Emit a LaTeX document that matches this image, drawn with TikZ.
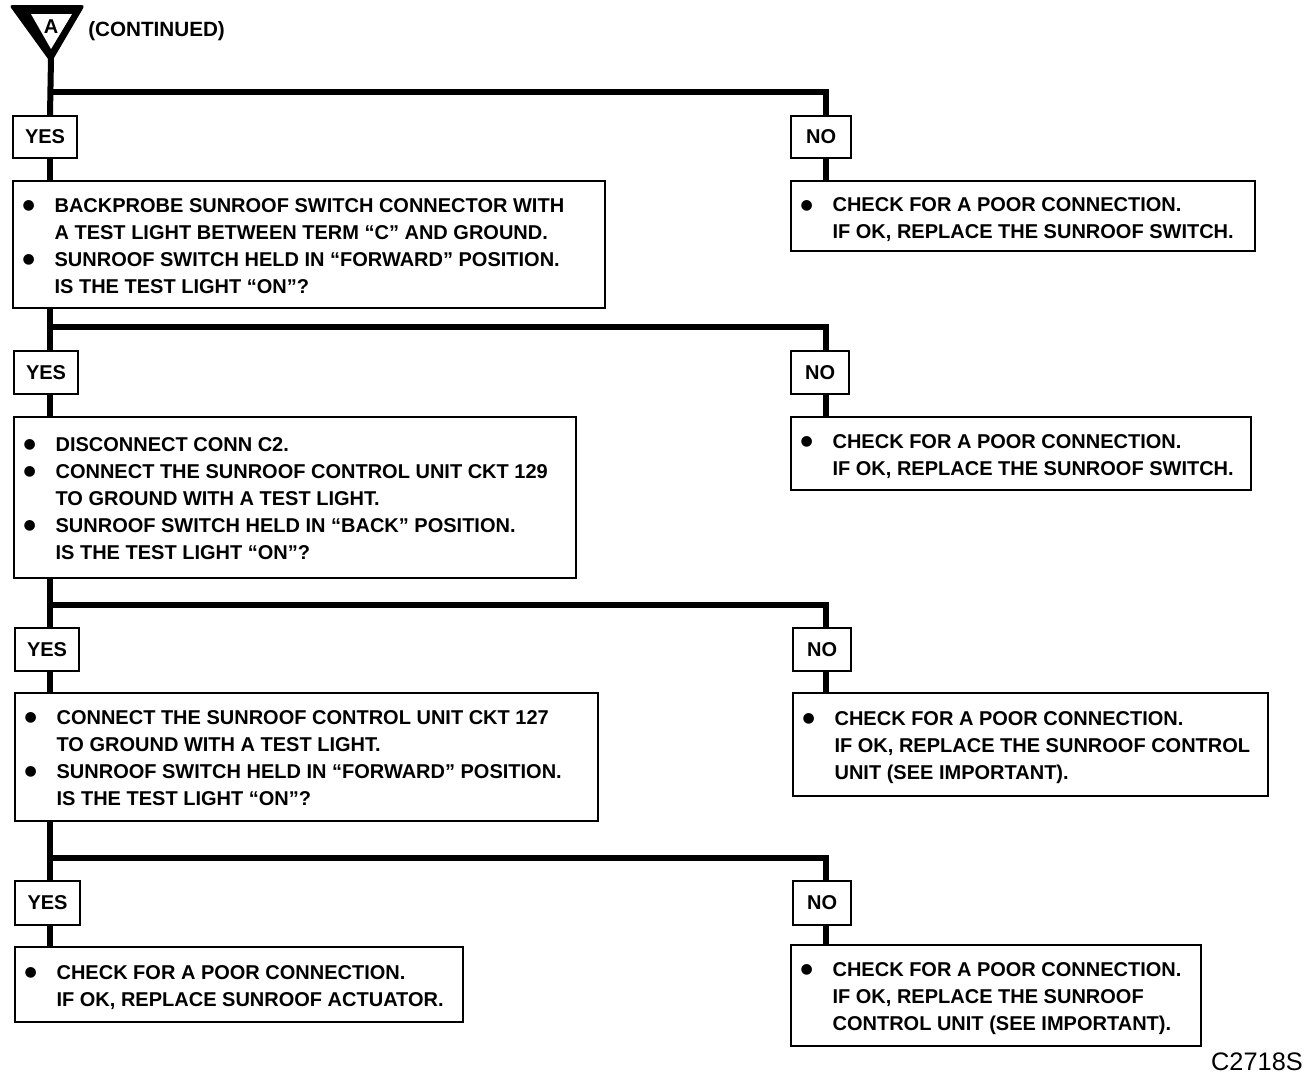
\documentclass[tikz,border=0pt]{standalone}
\usepackage{fontspec}
\setmainfont{Liberation Sans}
\newfontfamily\dvsym{DejaVu Sans}
\newcommand\bul{\makebox[24.25pt][l]{\hspace{0.3pt}\raisebox{2pt}{\dvsym\fontsize{10.5}{12}\selectfont ●}}}
\begin{document}
\begin{tikzpicture}[x=0.75pt,y=-0.75pt,
  wire/.style={line width=4.5pt},
  frame/.style={draw, line width=1.6pt, anchor=north west, inner sep=0pt},
  sz/.style 2 args={minimum width=#1*0.75pt, minimum height=#2*0.75pt},
  tag/.style={frame, font=\bfseries\fontsize{15}{18}\selectfont},
  txt/.style={anchor=west, inner sep=0pt, xshift=7.5pt, yshift=-2pt, font=\bfseries\fontsize{15}{20.25}\selectfont}]
\useasboundingbox[fill=white] (0,0) rectangle (1312,1082);

% header symbol
\fill[rounded corners=2.5pt] (9,5) -- (85,5) -- (51,63) -- cycle;
\fill[white] (31,14) -- (72,14) -- (51,49) -- cycle;
\node[inner sep=0pt, font=\bfseries\fontsize{15}{17}\selectfont] (symA) at (51,27) {A};
\coordinate (tri) at (51,58);
\node[anchor=west, inner sep=0pt, font=\bfseries\fontsize{15.5}{18}\selectfont] (cont) at (88,31) {(CONTINUED)};

\coordinate (sp) at (50,0);
\coordinate (rs) at (826,0);

% level 1
\node[tag, sz={64}{42}] (yes1) at (12,115) {YES};
\node[tag, sz={60}{42}] (no1) at (790,115) {NO};
\node[frame, sz={592}{127}] (b1) at (12,180) {};
\node[txt] (t1) at (b1.west) {\begin{tabular}{@{}l@{}l@{}}
\bul & BACKPROBE SUNROOF SWITCH CONNECTOR WITH\\
 & A TEST LIGHT BETWEEN TERM “C” AND GROUND.\\
\bul & SUNROOF SWITCH HELD IN “FORWARD” POSITION.\\
 & IS THE TEST LIGHT “ON”?\end{tabular}};
\node[frame, sz={464}{70}] (n1) at (790,180) {};
\node[txt, yshift=-1pt] (u1) at (n1.west) {\begin{tabular}{@{}l@{}l@{}}
\bul & CHECK FOR A POOR CONNECTION.\\
 & IF OK, REPLACE THE SUNROOF SWITCH.\end{tabular}};

% level 2
\node[tag, sz={64}{43}] (yes2) at (13,350) {YES};
\node[tag, sz={58}{43}] (no2) at (790,350) {NO};
\node[frame, sz={562}{161}] (b2) at (13,416) {};
\node[txt] (t2) at (b2.west) {\begin{tabular}{@{}l@{}l@{}}
\bul & DISCONNECT CONN C2.\\
\bul & CONNECT THE SUNROOF CONTROL UNIT CKT 129\\
 & TO GROUND WITH A TEST LIGHT.\\
\bul & SUNROOF SWITCH HELD IN “BACK” POSITION.\\
 & IS THE TEST LIGHT “ON”?\end{tabular}};
\node[frame, sz={460}{73}] (n2) at (790,416) {};
\node[txt] (u2) at (n2.west) {\begin{tabular}{@{}l@{}l@{}}
\bul & CHECK FOR A POOR CONNECTION.\\
 & IF OK, REPLACE THE SUNROOF SWITCH.\end{tabular}};

% level 3
\node[tag, sz={64}{43}] (yes3) at (14,627) {YES};
\node[tag, sz={58}{43}] (no3) at (792,627) {NO};
\node[frame, sz={583}{128}] (b3) at (14,692) {};
\node[txt] (t3) at (b3.west) {\begin{tabular}{@{}l@{}l@{}}
\bul & CONNECT THE SUNROOF CONTROL UNIT CKT 127\\
 & TO GROUND WITH A TEST LIGHT.\\
\bul & SUNROOF SWITCH HELD IN “FORWARD” POSITION.\\
 & IS THE TEST LIGHT “ON”?\end{tabular}};
\node[frame, sz={475}{103}] (n3) at (792,692) {};
\node[txt] (u3) at (n3.west) {\begin{tabular}{@{}l@{}l@{}}
\bul & CHECK FOR A POOR CONNECTION.\\
 & IF OK, REPLACE THE SUNROOF CONTROL\\
 & UNIT (SEE IMPORTANT).\end{tabular}};

% level 4
\node[tag, sz={65}{44}] (yes4) at (14,880) {YES};
\node[tag, sz={58}{44}] (no4) at (792,880) {NO};
\node[frame, sz={448}{75}] (b4) at (14,946) {};
\node[txt] (t4) at (b4.west) {\begin{tabular}{@{}l@{}l@{}}
\bul & CHECK FOR A POOR CONNECTION.\\
 & IF OK, REPLACE SUNROOF ACTUATOR.\end{tabular}};
\node[frame, sz={410}{101}] (n4) at (790,944) {};
\node[txt] (u4) at (n4.west) {\begin{tabular}{@{}l@{}l@{}}
\bul & CHECK FOR A POOR CONNECTION.\\
 & IF OK, REPLACE THE SUNROOF\\
 & CONTROL UNIT (SEE IMPORTANT).\end{tabular}};

\node[anchor=east, inner sep=0pt, font=\fontsize{19}{22}\selectfont] (code) at (1303,1062) {C2718S};

% connectors
\coordinate (j1) at (50,92);
\coordinate (j2) at (50,327);
\coordinate (j3) at (50,605);
\coordinate (j4) at (50,858);
\draw[wire] (tri) -- (yes1.north -| sp);
\draw[wire] (j1) -| (no1.north -| rs);
\draw[wire] (yes1.south -| sp) -- (b1.north -| sp);
\draw[wire] (no1.south -| rs) -- (n1.north -| rs);
\draw[wire] (b1.south -| sp) -- (yes2.north -| sp);
\draw[wire] (j2) -| (no2.north -| rs);
\draw[wire] (yes2.south -| sp) -- (b2.north -| sp);
\draw[wire] (no2.south -| rs) -- (n2.north -| rs);
\draw[wire] (b2.south -| sp) -- (yes3.north -| sp);
\draw[wire] (j3) -| (no3.north -| rs);
\draw[wire] (yes3.south -| sp) -- (b3.north -| sp);
\draw[wire] (no3.south -| rs) -- (n3.north -| rs);
\draw[wire] (b3.south -| sp) -- (yes4.north -| sp);
\draw[wire] (j4) -| (no4.north -| rs);
\draw[wire] (yes4.south -| sp) -- (b4.north -| sp);
\draw[wire] (no4.south -| rs) -- (n4.north -| rs);
\end{tikzpicture}
\end{document}
